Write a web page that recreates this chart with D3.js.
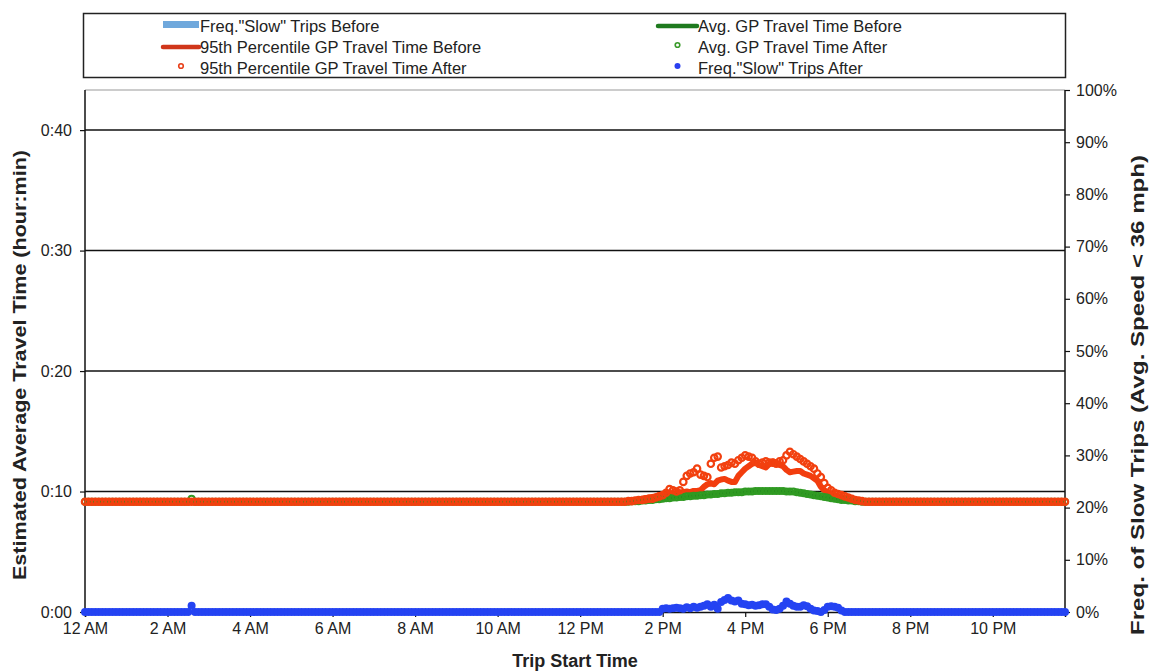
<!DOCTYPE html>
<html><head><meta charset="utf-8">
<script src="https://cdn.jsdelivr.net/npm/d3@7"></script>
<style>
body{margin:0;background:#fff;}
svg text{font-family:"Liberation Sans",Arial,Helvetica,sans-serif;}
</style></head>
<body><svg id="c" width="1151" height="671"></svg>
<script>
// Trip start times, every 5 minutes from 12:00 AM to 11:45 PM (minutes after midnight)
const times = d3.range(0, 1430, 5);
const xTickMinutes = [0,120,240,360,480,600,720,840,960,1080,1200,1320];
const xTickLabels = ["12 AM","2 AM","4 AM","6 AM","8 AM","10 AM","12 PM","2 PM","4 PM","6 PM","8 PM","10 PM"];
const leftTicks = [0,10,20,30,40];
const leftTickLabels = ["0:00","0:10","0:20","0:30","0:40"];
const rightTicks = [0,10,20,30,40,50,60,70,80,90,100];

// Freq. "Slow" trips before (% of trips), hourly bars
const slowBeforeHours = [0,1,2,3,4,5,6,7,8,9,10,11,12,13,14,15,16,17,18,19,20,21,22,23];
const slowBefore = [0,0,0,0,0,0,0,0,0,0,0,0,0,0,0,0,0,0,0,0,0,0,0,0];

// 95th percentile GP travel time before (minutes)
const p95Before = [
9.15,9.15,9.15,9.15,9.15,9.15,9.15,9.15,9.15,9.15,9.15,9.15,
9.15,9.15,9.15,9.15,9.15,9.15,9.15,9.15,9.15,9.15,9.15,9.15,
9.15,9.15,9.15,9.15,9.15,9.15,9.15,9.15,9.15,9.15,9.15,9.15,
9.15,9.15,9.15,9.15,9.15,9.15,9.15,9.15,9.15,9.15,9.15,9.15,
9.15,9.15,9.15,9.15,9.15,9.15,9.15,9.15,9.15,9.15,9.15,9.15,
9.15,9.15,9.15,9.15,9.15,9.15,9.15,9.15,9.15,9.15,9.15,9.15,
9.15,9.15,9.15,9.15,9.15,9.15,9.15,9.15,9.15,9.15,9.15,9.15,
9.15,9.15,9.15,9.15,9.15,9.15,9.15,9.15,9.15,9.15,9.15,9.15,
9.15,9.15,9.15,9.15,9.15,9.15,9.15,9.15,9.15,9.15,9.15,9.15,
9.15,9.15,9.15,9.15,9.15,9.15,9.15,9.15,9.15,9.15,9.15,9.15,
9.15,9.15,9.15,9.15,9.15,9.15,9.15,9.15,9.15,9.15,9.15,9.15,
9.15,9.15,9.15,9.15,9.15,9.15,9.15,9.15,9.15,9.15,9.15,9.15,
9.15,9.15,9.15,9.15,9.15,9.15,9.15,9.15,9.15,9.15,9.15,9.15,
9.15,9.15,9.2,9.3,9.25,9.35,9.4,9.45,9.5,9.55,9.6,9.7,
9.75,9.8,9.85,9.8,9.9,9.95,9.95,10.0,9.95,10.05,10.05,10.1,
10.4,10.6,10.7,10.6,10.9,11.0,11.05,10.9,10.8,10.8,11.3,11.6,
11.9,12.1,12.3,12.4,12.2,12.1,12.0,12.3,12.5,12.4,12.2,12.1,
11.8,11.6,11.65,11.7,11.7,11.5,11.4,11.3,11.1,10.9,10.4,10.1,
9.9,9.75,9.7,9.6,9.5,9.45,9.4,9.35,9.3,9.25,9.2,9.15,
9.15,9.15,9.15,9.15,9.15,9.15,9.15,9.15,9.15,9.15,9.15,9.15,
9.15,9.15,9.15,9.15,9.15,9.15,9.15,9.15,9.15,9.15,9.15,9.15,
9.15,9.15,9.15,9.15,9.15,9.15,9.15,9.15,9.15,9.15,9.15,9.15,
9.15,9.15,9.15,9.15,9.15,9.15,9.15,9.15,9.15,9.15,9.15,9.15,
9.15,9.15,9.15,9.15,9.15,9.15,9.15,9.15,9.15,9.15
];

// Avg. GP travel time before (minutes)
const avgBefore = [
9.15,9.15,9.15,9.15,9.15,9.15,9.15,9.15,9.15,9.15,9.15,9.15,
9.15,9.15,9.15,9.15,9.15,9.15,9.15,9.15,9.15,9.15,9.15,9.15,
9.15,9.15,9.15,9.15,9.15,9.15,9.15,9.15,9.15,9.15,9.15,9.15,
9.15,9.15,9.15,9.15,9.15,9.15,9.15,9.15,9.15,9.15,9.15,9.15,
9.15,9.15,9.15,9.15,9.15,9.15,9.15,9.15,9.15,9.15,9.15,9.15,
9.15,9.15,9.15,9.15,9.15,9.15,9.15,9.15,9.15,9.15,9.15,9.15,
9.15,9.15,9.15,9.15,9.15,9.15,9.15,9.15,9.15,9.15,9.15,9.15,
9.15,9.15,9.15,9.15,9.15,9.15,9.15,9.15,9.15,9.15,9.15,9.15,
9.15,9.15,9.15,9.15,9.15,9.15,9.15,9.15,9.15,9.15,9.15,9.15,
9.15,9.15,9.15,9.15,9.15,9.15,9.15,9.15,9.15,9.15,9.15,9.15,
9.15,9.15,9.15,9.15,9.15,9.15,9.15,9.15,9.15,9.15,9.15,9.15,
9.15,9.15,9.15,9.15,9.15,9.15,9.15,9.15,9.15,9.15,9.15,9.15,
9.15,9.15,9.15,9.15,9.15,9.15,9.15,9.15,9.15,9.15,9.15,9.15,
9.15,9.15,9.15,9.2,9.2,9.2,9.25,9.25,9.3,9.3,9.3,9.35,
9.4,9.4,9.45,9.45,9.5,9.5,9.55,9.55,9.6,9.6,9.65,9.65,
9.7,9.7,9.75,9.75,9.8,9.8,9.85,9.85,9.9,9.9,9.9,9.95,
9.95,10.0,10.0,10.0,10.0,10.0,10.0,10.0,10.0,10.0,10.0,10.0,
9.95,9.95,9.9,9.9,9.85,9.8,9.75,9.7,9.65,9.6,9.55,9.5,
9.45,9.4,9.35,9.3,9.3,9.25,9.25,9.2,9.2,9.2,9.15,9.15,
9.15,9.15,9.15,9.15,9.15,9.15,9.15,9.15,9.15,9.15,9.15,9.15,
9.15,9.15,9.15,9.15,9.15,9.15,9.15,9.15,9.15,9.15,9.15,9.15,
9.15,9.15,9.15,9.15,9.15,9.15,9.15,9.15,9.15,9.15,9.15,9.15,
9.15,9.15,9.15,9.15,9.15,9.15,9.15,9.15,9.15,9.15,9.15,9.15,
9.15,9.15,9.15,9.15,9.15,9.15,9.15,9.15,9.15,9.15
];

// Avg. GP travel time after (minutes)
const avgAfter = [
9.15,9.15,9.15,9.15,9.15,9.15,9.15,9.15,9.15,9.15,9.15,9.15,
9.15,9.15,9.15,9.15,9.15,9.15,9.15,9.15,9.15,9.15,9.15,9.15,
9.15,9.15,9.15,9.15,9.15,9.15,9.15,9.4,9.15,9.15,9.15,9.15,
9.15,9.15,9.15,9.15,9.15,9.15,9.15,9.15,9.15,9.15,9.15,9.15,
9.15,9.15,9.15,9.15,9.15,9.15,9.15,9.15,9.15,9.15,9.15,9.15,
9.15,9.15,9.15,9.15,9.15,9.15,9.15,9.15,9.15,9.15,9.15,9.15,
9.15,9.15,9.15,9.15,9.15,9.15,9.15,9.15,9.15,9.15,9.15,9.15,
9.15,9.15,9.15,9.15,9.15,9.15,9.15,9.15,9.15,9.15,9.15,9.15,
9.15,9.15,9.15,9.15,9.15,9.15,9.15,9.15,9.15,9.15,9.15,9.15,
9.15,9.15,9.15,9.15,9.15,9.15,9.15,9.15,9.15,9.15,9.15,9.15,
9.15,9.15,9.15,9.15,9.15,9.15,9.15,9.15,9.15,9.15,9.15,9.15,
9.15,9.15,9.15,9.15,9.15,9.15,9.15,9.15,9.15,9.15,9.15,9.15,
9.15,9.15,9.15,9.15,9.15,9.15,9.15,9.15,9.15,9.15,9.15,9.15,
9.15,9.15,9.15,9.2,9.2,9.2,9.25,9.25,9.3,9.3,9.35,9.35,
9.4,9.45,9.45,9.5,9.5,9.55,9.55,9.6,9.6,9.65,9.65,9.7,
9.7,9.75,9.75,9.8,9.8,9.85,9.85,9.9,9.9,9.95,9.95,9.95,
10.0,10.0,10.0,10.05,10.05,10.05,10.05,10.05,10.05,10.05,10.05,10.05,
10.0,10.0,10.0,9.95,9.9,9.85,9.8,9.75,9.7,9.65,9.6,9.55,
9.5,9.45,9.4,9.35,9.3,9.3,9.25,9.25,9.2,9.2,9.15,9.15,
9.15,9.15,9.15,9.15,9.15,9.15,9.15,9.15,9.15,9.15,9.15,9.15,
9.15,9.15,9.15,9.15,9.15,9.15,9.15,9.15,9.15,9.15,9.15,9.15,
9.15,9.15,9.15,9.15,9.15,9.15,9.15,9.15,9.15,9.15,9.15,9.15,
9.15,9.15,9.15,9.15,9.15,9.15,9.15,9.15,9.15,9.15,9.15,9.15,
9.15,9.15,9.15,9.15,9.15,9.15,9.15,9.15,9.15,9.15
];

// 95th percentile GP travel time after (minutes)
const p95After = [
9.15,9.15,9.15,9.15,9.15,9.15,9.15,9.15,9.15,9.15,9.15,9.15,
9.15,9.15,9.15,9.15,9.15,9.15,9.15,9.15,9.15,9.15,9.15,9.15,
9.15,9.15,9.15,9.15,9.15,9.15,9.15,9.15,9.15,9.15,9.15,9.15,
9.15,9.15,9.15,9.15,9.15,9.15,9.15,9.15,9.15,9.15,9.15,9.15,
9.15,9.15,9.15,9.15,9.15,9.15,9.15,9.15,9.15,9.15,9.15,9.15,
9.15,9.15,9.15,9.15,9.15,9.15,9.15,9.15,9.15,9.15,9.15,9.15,
9.15,9.15,9.15,9.15,9.15,9.15,9.15,9.15,9.15,9.15,9.15,9.15,
9.15,9.15,9.15,9.15,9.15,9.15,9.15,9.15,9.15,9.15,9.15,9.15,
9.15,9.15,9.15,9.15,9.15,9.15,9.15,9.15,9.15,9.15,9.15,9.15,
9.15,9.15,9.15,9.15,9.15,9.15,9.15,9.15,9.15,9.15,9.15,9.15,
9.15,9.15,9.15,9.15,9.15,9.15,9.15,9.15,9.15,9.15,9.15,9.15,
9.15,9.15,9.15,9.15,9.15,9.15,9.15,9.15,9.15,9.15,9.15,9.15,
9.15,9.15,9.15,9.15,9.15,9.15,9.15,9.15,9.15,9.15,9.15,9.15,
9.15,9.15,9.2,9.2,9.25,9.3,9.3,9.35,9.4,9.4,9.5,9.6,
9.7,9.9,10.2,10.1,10.0,10.1,10.8,11.3,11.5,11.6,11.9,11.4,
11.3,11.2,12.3,12.8,12.9,12.0,12.1,12.2,12.4,12.3,12.6,12.8,
13.0,12.9,12.8,12.5,12.3,12.4,12.5,12.4,12.4,12.3,12.5,12.6,
13.0,13.3,13.1,12.9,12.7,12.5,12.3,12.1,11.9,11.5,11.2,10.7,
10.3,10.1,9.9,9.8,9.7,9.6,9.5,9.4,9.3,9.25,9.2,9.15,
9.15,9.15,9.15,9.15,9.15,9.15,9.15,9.15,9.15,9.15,9.15,9.15,
9.15,9.15,9.15,9.15,9.15,9.15,9.15,9.15,9.15,9.15,9.15,9.15,
9.15,9.15,9.15,9.15,9.15,9.15,9.15,9.15,9.15,9.15,9.15,9.15,
9.15,9.15,9.15,9.15,9.15,9.15,9.15,9.15,9.15,9.15,9.15,9.15,
9.15,9.15,9.15,9.15,9.15,9.15,9.15,9.15,9.15,9.15
];

// Freq. "Slow" trips after (% of trips)
const slowAfter = [
0,0,0,0,0,0,0,0,0,0,0,0,
0,0,0,0,0,0,0,0,0,0,0,0,
0,0,0,0,0,0,0,1.2,0,0,0,0,
0,0,0,0,0,0,0,0,0,0,0,0,
0,0,0,0,0,0,0,0,0,0,0,0,
0,0,0,0,0,0,0,0,0,0,0,0,
0,0,0,0,0,0,0,0,0,0,0,0,
0,0,0,0,0,0,0,0,0,0,0,0,
0,0,0,0,0,0,0,0,0,0,0,0,
0,0,0,0,0,0,0,0,0,0,0,0,
0,0,0,0,0,0,0,0,0,0,0,0,
0,0,0,0,0,0,0,0,0,0,0,0,
0,0,0,0,0,0,0,0,0,0,0,0,
0,0,0,0,0,0,0,0,0,0,0,0,
0.6,0.7,0.6,0.7,0.8,0.7,0.6,0.9,0.7,1.0,0.8,1.0,
1.2,1.5,1.0,1.4,0.6,1.9,2.3,2.7,2.2,2.0,2.2,1.6,
1.5,1.3,1.4,1.2,1.3,1.5,1.5,1.0,0.5,0.4,0.6,1.2,
2.0,1.6,1.2,1.0,1.0,1.3,1.1,0.6,0.3,0.2,0.0,0.4,
1.0,1.1,1.0,0.8,0.3,0,0,0,0,0,0,0,
0,0,0,0,0,0,0,0,0,0,0,0,
0,0,0,0,0,0,0,0,0,0,0,0,
0,0,0,0,0,0,0,0,0,0,0,0,
0,0,0,0,0,0,0,0,0,0,0,0,
0,0,0,0,0,0,0,0,0,0
];

const legendItems = [
  {label:'Freq."Slow" Trips Before', kind:"bar", color:"#6fa8dc", col:0, row:0},
  {label:"95th Percentile GP Travel Time Before", kind:"line", color:"#d0361a", col:0, row:1},
  {label:"95th Percentile GP Travel Time After", kind:"odot", color:"#e8401a", col:0, row:2},
  {label:"Avg. GP Travel Time Before", kind:"line", color:"#1e7a1e", col:1, row:0},
  {label:"Avg. GP Travel Time After", kind:"odot", color:"#3a9a2a", col:1, row:1},
  {label:'Freq."Slow" Trips After', kind:"dot", color:"#2a3ff0", col:1, row:2}
];

const svg = d3.select("#c");
const L = 85, R = 1065, T = 90, B = 612;

const x = d3.scaleLinear().domain([0, 1425]).range([L, R]);
const yL = d3.scaleLinear().domain([0, 43.33]).range([B, T]);
const yR = d3.scaleLinear().domain([0, 100]).range([B, T]);

// top border
svg.append("line").attr("x1",L).attr("x2",R).attr("y1",T).attr("y2",T)
  .attr("stroke","#999").attr("stroke-width",1);

// gridlines
svg.append("g").selectAll("line").data(leftTicks.filter(d=>d>0)).join("line")
  .attr("x1",L).attr("x2",R).attr("y1",d=>yL(d)).attr("y2",d=>yL(d))
  .attr("stroke","#111").attr("stroke-width",1.5);

// x axis
const xAxis = d3.axisBottom(x).tickValues(xTickMinutes).tickFormat((d,i)=>xTickLabels[i]).tickSize(5).tickPadding(6);
const gx = svg.append("g").attr("transform",`translate(0,${B})`).call(xAxis);
gx.select(".domain").attr("stroke","#111").attr("stroke-width",1.5);
gx.selectAll(".tick line").attr("stroke","#111").attr("stroke-width",1.2);
gx.selectAll("text").attr("font-size",16).attr("fill","#222");

// left axis
const yAxisL = d3.axisLeft(yL).tickValues(leftTicks).tickFormat((d,i)=>leftTickLabels[i]).tickSize(5).tickPadding(8);
const gl = svg.append("g").attr("transform",`translate(${L},0)`).call(yAxisL);
gl.select(".domain").attr("stroke","#111").attr("stroke-width",1.5).attr("d",`M-0,${B}V${T}`);
gl.selectAll(".tick line").attr("stroke","#111").attr("stroke-width",1.2);
gl.selectAll("text").attr("font-size",16).attr("fill","#222");

// right axis
const yAxisR = d3.axisRight(yR).tickValues(rightTicks).tickFormat(d=>d+"%").tickSize(5).tickPadding(6);
const gr = svg.append("g").attr("transform",`translate(${R},0)`).call(yAxisR);
gr.select(".domain").attr("stroke","#111").attr("stroke-width",1.5).attr("d",`M0,${B}V${T}`);
gr.selectAll(".tick line").attr("stroke","#111").attr("stroke-width",1.2);
gr.selectAll("text").attr("font-size",16).attr("fill","#222");

// bars: slow before
const bw = x(60) - x(0);
svg.append("g").selectAll("rect").data(slowBeforeHours).join("rect")
  .attr("x",(h)=>x(h*60)).attr("width",bw*0.8)
  .attr("y",(h,i)=>yR(slowBefore[i])).attr("height",(h,i)=>B - yR(slowBefore[i]))
  .attr("fill","#6fa8dc");

const pts = (arr) => times.map((t,i)=>({t, v:arr[i]}));

// red line: 95th before
svg.append("path").datum(pts(p95Before))
  .attr("d", d3.line().x(d=>x(d.t)).y(d=>yL(d.v)))
  .attr("fill","none").attr("stroke","#f23d0e").attr("stroke-width",6).attr("stroke-linejoin","round");

// green line: avg before
svg.append("path").datum(pts(avgBefore))
  .attr("d", d3.line().x(d=>x(d.t)).y(d=>yL(d.v)))
  .attr("fill","none").attr("stroke","#1e7a1e").attr("stroke-width",4).attr("stroke-linejoin","round");

// green dots: avg after
svg.append("g").selectAll("circle").data(pts(avgAfter)).join("circle")
  .attr("cx",d=>x(d.t)).attr("cy",d=>yL(d.v)).attr("r",3)
  .attr("fill","none").attr("stroke","#2f9a22").attr("stroke-width",2);

// red dots: 95th after
svg.append("g").selectAll("circle").data(pts(p95After)).join("circle")
  .attr("cx",d=>x(d.t)).attr("cy",d=>yL(d.v)).attr("r",3.2)
  .attr("fill","none").attr("stroke","#f2400f").attr("stroke-width",2.2);

// blue dots: slow after
svg.append("g").selectAll("circle").data(pts(slowAfter)).join("circle")
  .attr("cx",d=>x(d.t)).attr("cy",d=>yR(d.v)).attr("r",4)
  .attr("fill","#2443f2");

// axis titles
svg.append("text").attr("transform",`translate(26,365) rotate(-90)`)
  .attr("text-anchor","middle").attr("font-size",18).attr("font-weight","bold").attr("fill","#222")
  .attr("textLength",430).attr("lengthAdjust","spacingAndGlyphs")
  .text("Estimated Average Travel Time (hour:min)");
svg.append("text").attr("transform",`translate(1144,395) rotate(-90)`)
  .attr("text-anchor","middle").attr("font-size",18).attr("font-weight","bold").attr("fill","#222")
  .attr("textLength",480).attr("lengthAdjust","spacingAndGlyphs")
  .text("Freq. of Slow Trips (Avg. Speed < 36 mph)");
svg.append("text").attr("x",575).attr("y",667).attr("text-anchor","middle")
  .attr("font-size",18).attr("font-weight","bold").attr("fill","#222").text("Trip Start Time");

// legend
const lg = svg.append("g");
lg.append("rect").attr("x",83.5).attr("y",13.5).attr("width",982).attr("height",64)
  .attr("fill","#fff").attr("stroke","#222").attr("stroke-width",1.5);
const colX = [163, 658], colW = [36, 39], rowY = [26, 47, 68];
legendItems.forEach(it=>{
  const x0 = colX[it.col], w = colW[it.col], yy = rowY[it.row];
  if(it.kind==="bar") lg.append("rect").attr("x",x0).attr("y",yy-5).attr("width",w).attr("height",7).attr("fill",it.color);
  if(it.kind==="line") lg.append("line").attr("x1",x0).attr("x2",x0+w).attr("y1",yy).attr("y2",yy).attr("stroke",it.color).attr("stroke-width",4.5).attr("stroke-linecap","round");
  if(it.kind==="odot") lg.append("circle").attr("cx",x0+w/2).attr("cy",yy-2).attr("r",2.3).attr("fill","#fff").attr("stroke",it.color).attr("stroke-width",1.6);
  if(it.kind==="dot") lg.append("circle").attr("cx",x0+w/2).attr("cy",yy-2).attr("r",3).attr("fill",it.color);
  lg.append("text").attr("x",x0+w+1).attr("y",yy+5.5).attr("font-size",16.5).attr("fill","#222").text(it.label);
});
</script></body></html>
